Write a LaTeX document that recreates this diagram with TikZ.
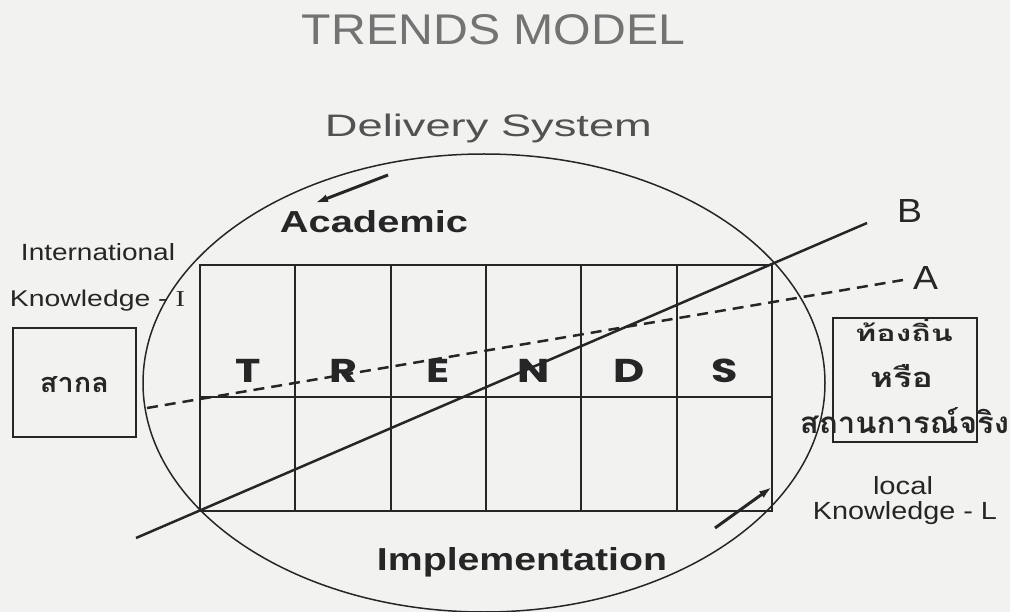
\documentclass[tikz,border=0pt]{standalone}
\usepackage{fontspec}
\setmainfont{Liberation Sans}
\newfontfamily\thaifont[Script=Thai]{Loma}
\newfontfamily\geofont{Poppins}
\newfontfamily\timesfont{Liberation Serif}
\usetikzlibrary{arrows.meta}
\definecolor{ink}{RGB}{38,38,38}
\definecolor{paper}{RGB}{242,242,240}
\newcommand{\rsz}[3]{\resizebox{#1pt}{#2pt}{#3}}
\newcommand{\trl}[1]{\scalebox{1.3}[1]{\fontsize{33}{36}\selectfont\geofont\bfseries #1}}
\begin{document}
\begin{tikzpicture}[x=1pt,y=-1pt,
  txt/.style={inner sep=0pt, anchor=base, text=ink},
  thin box/.style={draw=ink, line width=1.4pt, inner sep=0pt},
  gridline/.style={draw=ink, line width=2.1pt},
  axisline/.style={draw=ink, line width=2.5pt},
  dir arrow/.style={draw=ink, line width=3pt, -{Latex[length=13pt,width=8pt]}}]
\fill[paper] (0,0) rectangle (1010,612);
\useasboundingbox (0,0) rectangle (1010,612);

% titles
\node[txt, text=black!55] (title) at (493.5,45) {\rsz{383}{30}{TRENDS MODEL}};
\node[txt, text=black!68] (delivery) at (488.5,137) {\rsz{327}{22.5}{Delivery System}};

% ellipse
\draw[ink, line width=1.5pt] (484,383) ellipse [x radius=341, y radius=229];

% grid
\draw[gridline, line width=2.6pt] (200,265) rectangle (772,511);
\foreach \cx in {295.3,390.7,486,581.3,676.7}
  \draw[gridline] (\cx,265) -- (\cx,511);
\draw[ink, line width=1.6pt] (200,397) -- (772,397);

% letters
\node[txt] (lT) at (247.7,383) {\trl{T}};
\node[txt] (lR) at (343,383) {\trl{R}};
\node[txt] (lE) at (438.3,383) {\trl{E}};
\node[txt] (lN) at (533.7,383) {\trl{N}};
\node[txt] (lD) at (629,383) {\trl{D}};
\node[txt] (lS) at (724.3,383) {\trl{S}};

% lines A and B
\coordinate (Bs) at (136,538);
\coordinate (Be) at (867,223);
\draw[axisline] (Bs) -- (Be);
\node[txt] (Blab) at (909.5,223) {\rsz{25}{23}{B}};
\coordinate (As) at (147,408);
\coordinate (Ae) at (903,280);
\draw[axisline, dash pattern=on 11pt off 7pt] (As) -- (Ae);
\node[txt] (Alab) at (925.5,290) {\rsz{25}{23}{A}};

% academic / implementation
\node[txt] (academic) at (374,233) {\rsz{188}{22}{\bfseries Academic}};
\coordinate (ac1) at (388,175);
\coordinate (ac2) at (315,203);
\draw[dir arrow] (ac1) -- (ac2);
\node[txt] (impl) at (522,570) {\rsz{290}{23}{\bfseries Implementation}};
\coordinate (im1) at (715,528);
\coordinate (im2) at (772,487);
\draw[dir arrow] (im1) -- (im2);

% left side
\node[txt] (intl) at (98,261) {\rsz{154}{17}{International}};
\node[txt] (knowI) at (97.5,307) {\rsz{175}{16.5}{Knowledge - {\timesfont I}}};
\node[thin box, minimum width=123pt, minimum height=109pt] (sakon) at (74.5,382.5) {};
\node[txt] (sakonT) at (74.5,393) {\rsz{69}{16}{\thaifont\bfseries สากล}};

% right side
\node[thin box, minimum width=144pt, minimum height=124pt] (localbox) at (905,380) {};
\node[txt] (th1) at (904,342) {\rsz{98}{23}{\thaifont\bfseries ท้องถิ่น}};
\node[txt] (th2) at (901.5,388) {\rsz{63}{23}{\thaifont\bfseries หรือ}};
\node[txt] (th3) at (904.5,433) {\rsz{209}{26}{\thaifont\bfseries สถานการณ์จริง}};
\node[txt] (loc) at (903,494) {\rsz{60}{18}{local}};
\node[txt] (knowL) at (905,519) {\rsz{184}{18}{Knowledge - L}};
\end{tikzpicture}
\end{document}
